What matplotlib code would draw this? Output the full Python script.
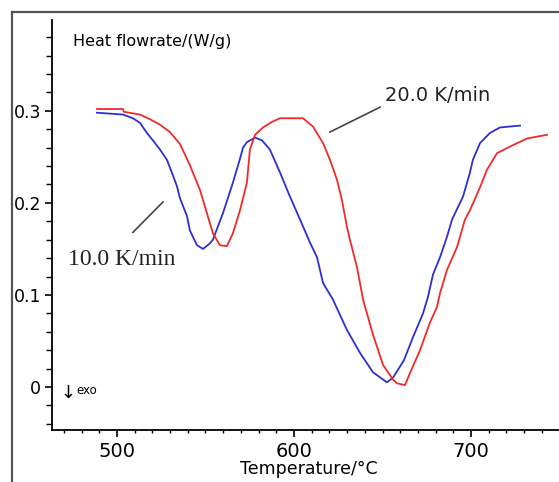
import matplotlib
matplotlib.use("Agg")
import matplotlib.pyplot as plt
from matplotlib.ticker import FixedLocator, MultipleLocator
from matplotlib.lines import Line2D

# Data (Temperature in °C, heat flow in W/g)
t_10 = [488.7, 503.4, 509.0, 513.0, 516.9, 520.3, 524.3, 528.2, 531.6, 533.9, 535.6, 539.5,
        541.2, 545.2, 548.6, 552.5, 554.2, 559.9, 565.5, 569.5, 571.2, 573.4, 578.0, 581.9,
        586.4, 592.1, 597.7, 603.4, 609.0, 613.0, 616.4, 622.0, 629.9, 637.3, 644.6, 652.5,
        655.9, 662.1, 667.2, 672.9, 675.7, 678.5, 682.5, 686.4, 689.3, 695.5, 699.4, 701.1,
        705.1, 710.7, 716.4, 727.7]
v_10 = [0.298, 0.296, 0.292, 0.287, 0.276, 0.268, 0.258, 0.247, 0.230, 0.218, 0.205, 0.186,
        0.170, 0.154, 0.150, 0.156, 0.160, 0.189, 0.222, 0.248, 0.260, 0.266, 0.271, 0.268,
        0.258, 0.233, 0.207, 0.182, 0.157, 0.141, 0.113, 0.095, 0.062, 0.037, 0.016, 0.005,
        0.010, 0.029, 0.054, 0.080, 0.098, 0.122, 0.141, 0.163, 0.182, 0.207, 0.233, 0.247,
        0.265, 0.276, 0.282, 0.284]

t_20 = [488.7, 503.4, 503.9, 513.0, 518.6, 524.3, 529.9, 535.6, 541.2, 546.9, 550.8, 554.2,
        558.2, 562.1, 565.5, 569.5, 573.4, 575.1, 578.0, 582.5, 587.6, 592.1, 605.1, 610.7,
        616.4, 620.3, 624.3, 627.1, 629.9, 631.6, 635.6, 639.0, 644.6, 650.3, 655.9, 658.2,
        662.7, 665.5, 671.2, 676.8, 680.8, 682.5, 686.4, 692.1, 696.6, 699.4, 705.1, 709.0,
        714.7, 721.8, 731.6, 742.9]
v_20 = [0.302, 0.302, 0.299, 0.296, 0.291, 0.285, 0.277, 0.264, 0.241, 0.214, 0.189, 0.167,
        0.154, 0.153, 0.167, 0.192, 0.222, 0.258, 0.274, 0.282, 0.288, 0.292, 0.292, 0.283,
        0.265, 0.247, 0.225, 0.203, 0.174, 0.160, 0.130, 0.095, 0.057, 0.024, 0.008, 0.004,
        0.002, 0.015, 0.040, 0.070, 0.087, 0.102, 0.127, 0.152, 0.182, 0.192, 0.217, 0.236,
        0.254, 0.261, 0.270, 0.274]

x_major = [500, 600, 700]
y_major = [0, 0.1, 0.2, 0.3]
y_labels = ["0", "0.1", "0.2", "0.3"]

fig = plt.figure(figsize=(5.59, 4.82), dpi=100)
ax = fig.add_axes([0.093, 0.108, 0.907, 0.851])

ax.plot(t_10, v_10, color="#2f2fd0", lw=1.3)
ax.plot(t_20, v_20, color="#f02a2a", lw=1.3)

ax.set_xlim(463.3, 749.7)
ax.set_ylim(-0.0467, 0.399)

ax.xaxis.set_major_locator(FixedLocator(x_major))
ax.xaxis.set_minor_locator(MultipleLocator(10))
ax.yaxis.set_major_locator(FixedLocator(y_major))
ax.yaxis.set_minor_locator(MultipleLocator(0.02))
ax.set_yticklabels(y_labels)

for s in ("top", "right"):
    ax.spines[s].set_visible(False)
for s in ("left", "bottom"):
    ax.spines[s].set_linewidth(1.3)

ax.tick_params(axis="x", which="major", direction="out", length=5, width=1.2, labelsize=14, pad=4)
ax.tick_params(axis="x", which="minor", direction="out", length=2.5, width=1.0)
ax.tick_params(axis="y", which="major", direction="out", length=5, width=1.2, labelsize=12.5, pad=3)
ax.tick_params(axis="y", which="minor", direction="out", length=4, width=1.0)

# Annotations
ax.plot([509.0, 526.0], [0.168, 0.201], color="#444444", lw=1.2)
ax.plot([620.3, 648.6], [0.277, 0.304], color="#444444", lw=1.2)
ax.text(651.4, 0.317, "20.0 K/min", fontsize=14, ha="left", va="center", color="#222222")
ax.text(472.3, 0.138, "10.0 K/min", fontsize=17, family="Liberation Serif",
        ha="left", va="center", color="#222222")
ax.text(467.8, -0.006, "↓", fontsize=13, ha="left", va="center")
ax.text(477.0, -0.004, "exo", fontsize=8.5, ha="left", va="center")

fig.text(0.131, 0.913, "Heat flowrate/(W/g)", fontsize=11.5, ha="left", va="center")
fig.text(0.552, 0.026, "Temperature/°C", fontsize=12.5, ha="center", va="center")

# outer frame (top and left edges visible)
fig.add_artist(Line2D([0.0215, 1.0], [0.975, 0.975], color="#555555", lw=1.6, transform=fig.transFigure))
fig.add_artist(Line2D([0.0215, 0.0215], [0.0, 0.975], color="#555555", lw=1.6, transform=fig.transFigure))

fig.savefig("out.png", dpi=100)
